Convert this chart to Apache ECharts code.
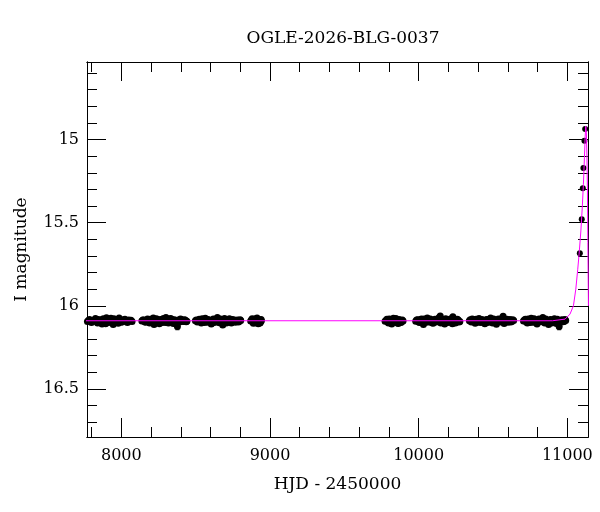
<!DOCTYPE html>
<html>
<head>
<meta charset="utf-8">
<script src="https://cdn.jsdelivr.net/npm/echarts@6/dist/echarts.min.js"></script>
<style>html,body{margin:0;padding:0;background:#fff}#c{width:600px;height:512px}</style>
</head>
<body>
<div id="c"></div>
<script>
const titleText = 'OGLE-2026-BLG-0037';
const xName = 'HJD - 2450000';
const yName = 'I magnitude';

const xMajor = [8000, 9000, 10000, 11000];
const xMinor = [7800, 8200, 8400, 8600, 8800, 9200, 9400, 9600, 9800, 10200, 10400, 10600, 10800];
const yMajor = [15, 15.5, 16, 16.5];
const yMinor = [14.6, 14.7, 14.8, 14.9, 15.1, 15.2, 15.3, 15.4, 15.6, 15.7, 15.8, 15.9, 16.1, 16.2, 16.3, 16.4, 16.6, 16.7];

const season1 = [[7772,16.095],[7779,16.088],[7786,16.082],[7792,16.094],[7799,16.101],[7811,16.090],[7818,16.085],[7826,16.076],[7833,16.096],[7840,16.104],[7846,16.083],[7853,16.088],[7860,16.099],[7867,16.097],[7870,16.110],[7875,16.079],[7881,16.080],[7888,16.093],[7894,16.108],[7900,16.072],[7909,16.092],[7915,16.101],[7922,16.084],[7930,16.075],[7937,16.099],[7945,16.112],[7950,16.078],[7957,16.090],[7964,16.093],[7972,16.083],[7979,16.105],[7985,16.074],[7993,16.086],[8000,16.099],[8008,16.096],[8016,16.084],[8024,16.081],[8032,16.093],[8041,16.100],[8050,16.086],[8058,16.091],[8065,16.087],[8072,16.094]];
const season2 = [[8138,16.092],[8144,16.086],[8151,16.085],[8157,16.096],[8163,16.099],[8170,16.087],[8176,16.079],[8183,16.093],[8190,16.104],[8196,16.081],[8203,16.088],[8209,16.098],[8215,16.073],[8220,16.112],[8229,16.097],[8236,16.078],[8242,16.083],[8249,16.095],[8256,16.108],[8263,16.082],[8270,16.091],[8276,16.100],[8283,16.076],[8290,16.090],[8297,16.101],[8300,16.070],[8310,16.087],[8317,16.104],[8324,16.094],[8330,16.077],[8337,16.080],[8344,16.096],[8350,16.106],[8357,16.084],[8363,16.090],[8370,16.099],[8377,16.124],[8384,16.086],[8391,16.098],[8398,16.079],[8404,16.082],[8411,16.093],[8418,16.095],[8425,16.084],[8431,16.087],[8436,16.096],[8441,16.093]];
const season3 = [[8498,16.090],[8504,16.085],[8511,16.097],[8518,16.091],[8524,16.081],[8531,16.095],[8538,16.103],[8544,16.078],[8551,16.086],[8558,16.100],[8565,16.075],[8571,16.092],[8578,16.099],[8585,16.082],[8592,16.088],[8598,16.096],[8605,16.109],[8612,16.086],[8619,16.080],[8626,16.101],[8632,16.094],[8639,16.083],[8646,16.071],[8652,16.090],[8659,16.102],[8666,16.079],[8673,16.087],[8682,16.115],[8688,16.097],[8694,16.076],[8700,16.083],[8707,16.104],[8713,16.096],[8720,16.087],[8727,16.078],[8734,16.093],[8740,16.104],[8747,16.082],[8754,16.090],[8760,16.085],[8767,16.099],[8774,16.092],[8781,16.085],[8788,16.097],[8794,16.093],[8799,16.084],[8803,16.088]];
const season4 = [[8870,16.092],[8876,16.084],[8880,16.078],[8884,16.098],[8888,16.105],[8892,16.081],[8896,16.086],[8900,16.102],[8905,16.099],[8909,16.077],[8913,16.073],[8917,16.095],[8921,16.108],[8925,16.089],[8929,16.084],[8933,16.104],[8937,16.096],[8940,16.083],[8942,16.090]];
const season5 = [[9774,16.093],[9780,16.088],[9786,16.081],[9791,16.097],[9797,16.104],[9802,16.079],[9808,16.087],[9814,16.100],[9819,16.110],[9825,16.084],[9830,16.075],[9836,16.094],[9841,16.098],[9847,16.077],[9852,16.084],[9858,16.103],[9863,16.106],[9869,16.082],[9874,16.089],[9880,16.100],[9885,16.097],[9890,16.085],[9895,16.091]];
const season6 = [[9980,16.093],[9986,16.086],[9993,16.084],[10000,16.097],[10006,16.101],[10012,16.082],[10019,16.079],[10026,16.094],[10032,16.112],[10038,16.080],[10045,16.088],[10051,16.099],[10058,16.074],[10064,16.091],[10071,16.098],[10078,16.079],[10084,16.086],[10090,16.102],[10097,16.105],[10103,16.085],[10110,16.081],[10117,16.098],[10123,16.095],[10130,16.083],[10136,16.072],[10142,16.090],[10145,16.062],[10149,16.103],[10156,16.081],[10162,16.089],[10169,16.097],[10175,16.110],[10182,16.078],[10188,16.083],[10195,16.101],[10201,16.097],[10208,16.086],[10214,16.079],[10221,16.093],[10227,16.108],[10230,16.066],[10236,16.084],[10240,16.090],[10247,16.103],[10253,16.099],[10260,16.081],[10266,16.085],[10272,16.097],[10277,16.094]];
const season7 = [[10341,16.090],[10347,16.084],[10354,16.098],[10360,16.079],[10367,16.083],[10374,16.096],[10380,16.105],[10387,16.081],[10393,16.087],[10400,16.099],[10406,16.077],[10413,16.091],[10419,16.101],[10426,16.083],[10432,16.089],[10439,16.097],[10445,16.108],[10452,16.086],[10458,16.082],[10465,16.100],[10471,16.095],[10478,16.080],[10484,16.074],[10491,16.093],[10497,16.103],[10504,16.079],[10510,16.086],[10517,16.098],[10523,16.111],[10530,16.087],[10536,16.080],[10543,16.094],[10549,16.097],[10556,16.078],[10562,16.084],[10568,16.063],[10575,16.106],[10581,16.085],[10588,16.091],[10594,16.081],[10601,16.099],[10607,16.090],[10614,16.083],[10620,16.097],[10627,16.095],[10633,16.084],[10639,16.088]];
const season8 = [[10705,16.092],[10711,16.085],[10718,16.081],[10724,16.097],[10731,16.103],[10737,16.079],[10744,16.087],[10750,16.100],[10757,16.075],[10763,16.092],[10770,16.099],[10776,16.078],[10783,16.085],[10790,16.101],[10796,16.110],[10803,16.086],[10809,16.079],[10816,16.093],[10822,16.096],[10829,16.083],[10835,16.071],[10842,16.090],[10848,16.104],[10855,16.080],[10861,16.088],[10868,16.099],[10874,16.112],[10881,16.087],[10887,16.083],[10894,16.104],[10900,16.097],[10907,16.084],[10913,16.078],[10920,16.095],[10926,16.106],[10933,16.081],[10939,16.090],[10945,16.124],[10952,16.099],[10958,16.087],[10965,16.084],[10971,16.096],[10978,16.095],[10984,16.083],[10989,16.089]];

const riseHjd = [11084, 11097, 11104, 11108, 11115, 11120];
const riseMag = [15.684, 15.480, 15.293, 15.172, 15.008, 14.937];
const riseErr = [0.008, 0.008, 0.007, 0.007, 0.007, 0.006];

const outlierErr = [[8377, 16.124, 0.02], [10945, 16.124, 0.02]];

const modelHjd = [7700, 10900, 10985, 11018, 11041, 11057, 11070, 11079, 11091, 11101, 11108, 11115, 11120, 11124, 11128, 11132, 11135, 11138, 11142];
const modelMag = [16.090, 16.090, 16.080, 16.050, 16.000, 15.900, 15.780, 15.690, 15.550, 15.400, 15.270, 15.110, 14.980, 14.920, 14.960, 15.100, 15.280, 15.620, 16.000];

const X_MIN = 7769, X_MAX = 11139;
const Y_MIN = 14.534, Y_MAX = 16.789;

const FONT = 'DejaVu Serif';
const allPts = [].concat(season1, season2, season3, season4, season5, season6, season7, season8);
const risePts = riseHjd.map((h, i) => [h, riseMag[i]]);
const errPts = riseHjd.map((h, i) => [h, riseMag[i], riseErr[i]]).concat(outlierErr);
const model = modelHjd.map((h, i) => [h, modelMag[i]]);

function xAx(grid, pos, ticks, len, extra) {
  return Object.assign({
    type: 'value', gridIndex: grid, position: pos, min: X_MIN, max: X_MAX,
    axisLine: { show: true, lineStyle: { color: '#000', width: 1 } },
    axisTick: { show: true, inside: true, length: len, customValues: ticks, lineStyle: { color: '#000', width: 1 } },
    axisLabel: { show: false },
    splitLine: { show: false }
  }, extra || {});
}
function yAx(grid, pos, ticks, len, extra) {
  return Object.assign({
    type: 'value', gridIndex: grid, position: pos, min: Y_MIN, max: Y_MAX, inverse: true,
    axisLine: { show: true, lineStyle: { color: '#000', width: 1 } },
    axisTick: { show: true, inside: true, length: len, customValues: ticks, lineStyle: { color: '#000', width: 1 } },
    axisLabel: { show: false },
    splitLine: { show: false }
  }, extra || {});
}

const chart = echarts.init(document.getElementById('c'), null, { renderer: 'canvas' });
const gridRect = { left: 87, top: 62, width: 501, height: 375 };
chart.setOption({
  animation: false,
  backgroundColor: '#fff',
  title: {
    text: titleText, left: 338, top: 25, textAlign: 'center',
    textStyle: { fontFamily: FONT, fontSize: 17, fontWeight: 'normal', color: '#000' }
  },
  grid: [Object.assign({}, gridRect), Object.assign({}, gridRect)],
  xAxis: [
    xAx(0, 'bottom', xMajor, 19, {
      axisLabel: { show: true, customValues: xMajor, margin: 11, fontFamily: FONT, fontSize: 16, color: '#000',
        formatter: function (v) { return String(v); } },
      name: xName, nameLocation: 'middle', nameGap: 39,
      nameTextStyle: { fontFamily: FONT, fontSize: 17, color: '#000' }
    }),
    xAx(0, 'top', xMajor, 19),
    xAx(1, 'bottom', xMinor, 10),
    xAx(1, 'top', xMinor, 10)
  ],
  yAxis: [
    yAx(0, 'left', yMajor, 19, {
      axisLabel: { show: true, customValues: yMajor, margin: 8, fontFamily: FONT, fontSize: 16, color: '#000',
        formatter: function (v) { return String(v); } },
      name: yName, nameLocation: 'middle', nameGap: 57,
      nameTextStyle: { fontFamily: FONT, fontSize: 17, color: '#000' }
    }),
    yAx(0, 'right', yMajor, 19),
    yAx(1, 'left', yMinor, 10),
    yAx(1, 'right', yMinor, 10)
  ],
  series: [
    {
      type: 'custom', xAxisIndex: 0, yAxisIndex: 0, data: errPts, z: 3,
      renderItem: function (params, api) {
        const x = api.value(0), y = api.value(1), e = api.value(2);
        const p1 = api.coord([x, y - e]);
        const p2 = api.coord([x, y + e]);
        const st = { stroke: '#000', lineWidth: 1 };
        return { type: 'group', children: [
          { type: 'line', shape: { x1: p1[0], y1: p1[1], x2: p2[0], y2: p2[1] }, style: st },
          { type: 'line', shape: { x1: p1[0] - 2, y1: p1[1], x2: p1[0] + 2, y2: p1[1] }, style: st },
          { type: 'line', shape: { x1: p2[0] - 2, y1: p2[1], x2: p2[0] + 2, y2: p2[1] }, style: st }
        ]};
      }
    },
    {
      type: 'scatter', xAxisIndex: 0, yAxisIndex: 0, data: allPts, symbol: 'circle', symbolSize: 7,
      itemStyle: { color: '#000', opacity: 1 }, z: 3, large: false
    },
    {
      type: 'scatter', xAxisIndex: 0, yAxisIndex: 0, data: risePts, symbol: 'circle', symbolSize: 6,
      itemStyle: { color: '#000', opacity: 1 }, z: 3
    },
    {
      type: 'line', xAxisIndex: 0, yAxisIndex: 0, data: model, showSymbol: false, symbol: 'none',
      lineStyle: { color: '#ff00ff', width: 1 }, z: 5, clip: true
    }
  ]
});
</script>
</body>
</html>
